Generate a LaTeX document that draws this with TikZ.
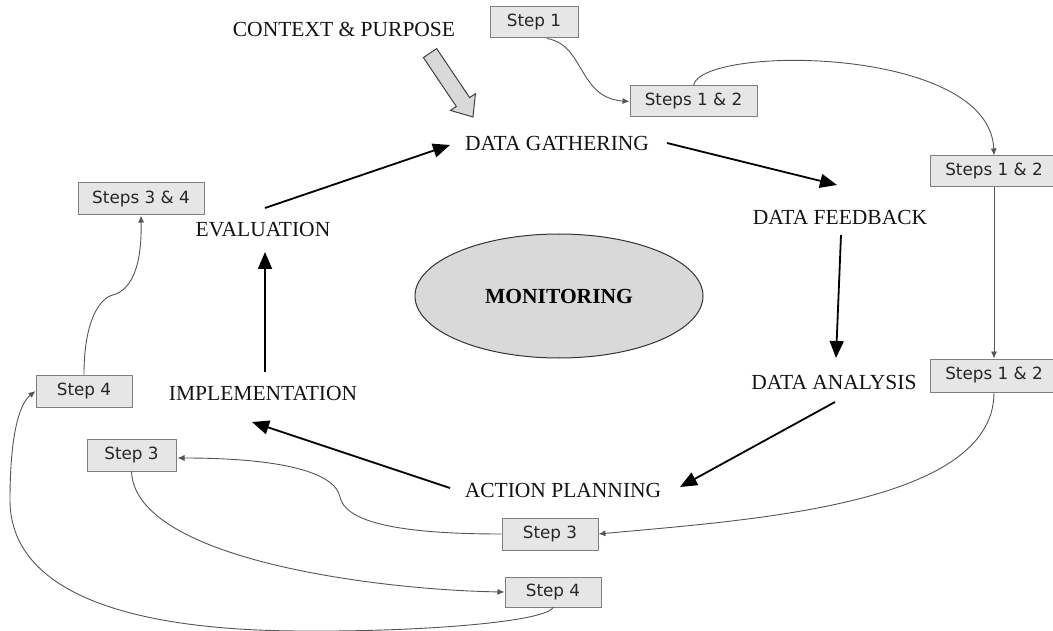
\documentclass[tikz,border=0pt]{standalone}
\usepackage{fontspec}
\setmainfont{Liberation Serif}
\newfontfamily\boxfont{DejaVu Sans}
\usetikzlibrary{arrows.meta,calc,shapes.geometric}
\definecolor{boxfill}{HTML}{E6E6E6}
\definecolor{boxline}{HTML}{7F7F7F}
\definecolor{linkcol}{HTML}{555555}
\definecolor{ellfill}{HTML}{D9D9D9}
\begin{document}
\begin{tikzpicture}[x=1pt,y=-1pt,
 lbl/.style={font=\fontsize{21.5}{24}\selectfont, inner sep=2pt, text=black!92},
 stepbox/.style={draw=boxline, fill=boxfill, line width=1pt, font=\boxfont\fontsize{16.8}{18}\selectfont, inner sep=0pt, minimum height=31pt, text=black!85},
 flow/.style={line width=1.8pt, -{Triangle[length=17pt,width=14pt]}},
 link/.style={draw=linkcol, line width=0.9pt, -{Latex[length=7pt,width=6pt]}},
]
\useasboundingbox[fill=white] (0,0) rectangle (1053,631);

% text labels
\node[lbl] (ctx)  at (344,29)  {CONTEXT \& PURPOSE};
\node[lbl] (gat)  at (557,143) {DATA GATHERING};
\node[lbl] (feed) at (840,217) {DATA FEEDBACK};
\node[lbl] (ana)  at (834,382) {DATA ANALYSIS};
\node[lbl] (act)  at (563,490) {ACTION PLANNING};
\node[lbl] (impl) at (263,393) {IMPLEMENTATION};
\node[lbl] (eval) at (263,230) {EVALUATION};

% central ellipse
\node[ellipse, draw=black!80, fill=ellfill, line width=1pt, minimum width=288pt, minimum height=124pt,
      font=\bfseries\fontsize{21.5}{24}\selectfont] (mon) at (559,296) {MONITORING};

% step boxes
\node[stepbox, minimum width=88pt]  (s1)   at (534,22.5)  {Step 1};
\node[stepbox, minimum width=127pt] (s12a) at (693.5,101.5) {Steps 1 \& 2};
\node[stepbox, minimum width=127pt] (s12b) at (994,171.5) {Steps 1 \& 2};
\node[stepbox, minimum width=127pt, minimum height=33pt] (s12c) at (994,375.5) {Steps 1 \& 2};
\node[stepbox, minimum width=126pt, minimum height=32pt] (s34)  at (141,199) {Steps 3 \& 4};
\node[stepbox, minimum width=96pt, minimum height=32pt]  (s4a)  at (84,391) {Step 4};
\node[stepbox, minimum width=89pt, minimum height=32pt]  (s3a)  at (131.5,455) {Step 3};
\node[stepbox, minimum width=96pt, minimum height=32pt]  (s3b)  at (550,534) {Step 3};
\node[stepbox, minimum width=96pt, minimum height=30pt]  (s4b)  at (553,592) {Step 4};

% big cycle arrows
\draw[flow] ($(eval)+(2,-22)$) -- ($(gat)+(-107,2)$);
\draw[flow] ($(gat)+(110,0)$) -- ($(feed)+(-3,-32)$);
\draw[flow] ($(feed)+(1,18)$) -- ($(ana)+(2,-24)$);
\draw[flow] ($(ana)+(1,20)$) -- ($(act)+(117,-3)$);
\draw[flow] ($(act)+(-113,-2)$) -- ($(impl)+(-11,29)$);
\draw[flow] ($(impl)+(2,-21)$) -- ($(eval)+(2,22)$);

% fat arrow from context to data gathering
\begin{scope}[shift={($(gat)+(-84,-26)$)}, rotate=-56.1]
  \draw[draw=black!75, fill=ellfill, line width=1pt]
    (0,0) -- (-18,15) -- (-18,8) -- (-77,8) -- (-77,-8) -- (-18,-8) -- (-18,-15) -- cycle;
\end{scope}

% thin step connectors
\draw[link] ($(s1.south)+(13,0)$) .. controls (585,45) and (578,98) .. (s12a.west);
\draw[link] (s12a.north) .. controls (700,45) and (990,45) .. (s12b.north);
\draw[link] (s12b.south) -- (s12c.north);
\draw[link] (s12c.south) .. controls (994,505) and (750,520) .. (s3b.east);
\draw[link] (s3b.west) .. controls (390,534) and (345,520) .. (340,497)
            .. controls (335,472) and (280,458) .. ($(s3a.east)+(1,3)$);
\draw[link] (s3a.south) .. controls (135,560) and (380,590) .. (s4b.west);
\draw[link] (s4b.south) .. controls (545,622) and (420,632) .. (300,631)
            .. controls (100,630) and (10,580) .. (10,500)
            .. controls (10,440) and (18,405) .. (s4a.west);
\draw[link] (s4a.north) .. controls (84,320) and (100,298) .. (113,295)
            .. controls (130,290) and (142,270) .. (s34.south);
\end{tikzpicture}
\end{document}
